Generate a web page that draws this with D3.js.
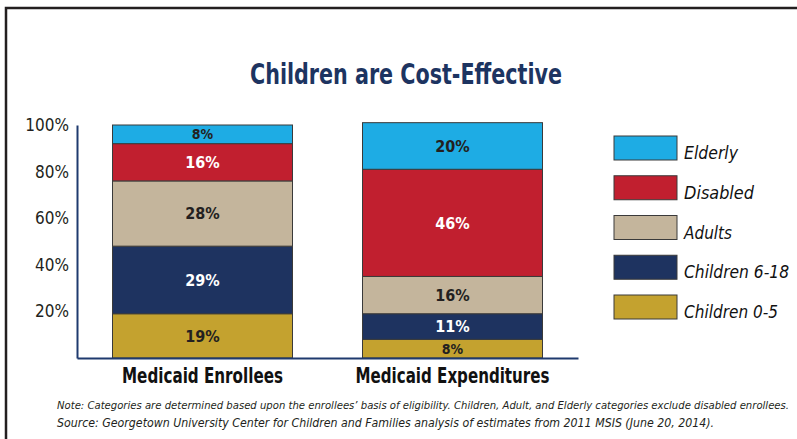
<!DOCTYPE html>
<html>
<head>
<meta charset="utf-8">
<script src="https://cdn.jsdelivr.net/npm/d3@7"></script>
<style>
  html, body { margin: 0; padding: 0; background: #fff; }
  svg { display: block; }
</style>
</head>
<body>
<svg id="chart" width="797" height="439"></svg>
<script>
// ---- data ----
const categories = ["Medicaid Enrollees", "Medicaid Expenditures"];
const seriesNames = ["Children 0-5", "Children 6-18", "Adults", "Disabled", "Elderly"];
const children05 = [19, 8];
const children618 = [29, 11];
const adults = [28, 16];
const disabled = [16, 46];
const elderly = [8, 20];
const yTicks = [20, 40, 60, 80, 100];
const colors = ["#c4a22f", "#1e3360", "#c4b59c", "#c11f2f", "#1eace4"];
const labelColors = ["#231f20", "#ffffff", "#231f20", "#ffffff", "#231f20"];
const titleText = "Children are Cost-Effective";
const noteText = "Note: Categories are determined based upon the enrollees\u2019 basis of eligibility.  Children, Adult, and Elderly categories exclude disabled enrollees.";
const sourceText = "Source: Georgetown University Center for Children and Families analysis of estimates from 2011 MSIS (June 20, 2014).";

const seriesValues = [children05, children618, adults, disabled, elderly];
const table = categories.map((c, i) => {
  const row = { category: c };
  seriesNames.forEach((s, j) => row[s] = seriesValues[j][i]);
  return row;
});

const svg = d3.select("#chart");
const font = '"Liberation Sans Narrow", "DejaVu Sans Condensed", "Open Sans", sans-serif';

// fit a text's font size so its natural width matches target width
function fitText(sel, target, maxSize) {
  const node = sel.node();
  const w = node.getComputedTextLength();
  const cur = parseFloat(sel.attr("font-size"));
  const size = Math.min(maxSize, cur * target / w);
  sel.attr("font-size", size);
  sel.attr("textLength", target).attr("lengthAdjust", "spacingAndGlyphs");
}

// frame
svg.append("rect")
  .attr("x", 6).attr("y", 8).attr("width", 800).attr("height", 440)
  .attr("fill", "none").attr("stroke", "#231f20").attr("stroke-width", 2.5);

// title
svg.append("text")
  .attr("x", 406).attr("y", 84)
  .attr("text-anchor", "middle")
  .attr("font-family", font).attr("font-weight", "bold").attr("font-size", 28)
  .attr("fill", "#1d3461")
  .attr("textLength", 312).attr("lengthAdjust", "spacingAndGlyphs")
  .text(titleText);

// scales
const x = d3.scaleBand().domain(categories).range([77, 578]).paddingInner(0.28).paddingOuter(0.142);
const y = d3.scaleLinear().domain([0, 100]).range([358, 125]);

const stack = d3.stack().keys(seriesNames);
const stacked = stack(table);

// bars
const g = svg.append("g");
stacked.forEach((layer, li) => {
  g.selectAll(null).data(layer).enter().append("rect")
    .attr("x", d => x(d.data.category))
    .attr("width", x.bandwidth())
    .attr("y", d => y(d[1]))
    .attr("height", d => y(d[0]) - y(d[1]))
    .attr("fill", colors[li])
    .attr("stroke", "#3a3a3a").attr("stroke-width", 1);
});
// bar labels
stacked.forEach((layer, li) => {
  g.selectAll(null).data(layer).enter().append("text")
    .attr("x", d => x(d.data.category) + x.bandwidth() / 2)
    .attr("y", d => (y(d[0]) + y(d[1])) / 2)
    .attr("dy", "0.36em")
    .attr("text-anchor", "middle")
    .attr("font-family", font).attr("font-weight", "bold")
    .attr("font-size", d => (y(d[0]) - y(d[1])) < 20 ? 14 : 16)
    .attr("fill", labelColors[li])
    .text(d => (d[1] - d[0]) + "%");
});

// y axis
const yAxis = svg.append("g").attr("transform", "translate(77,0)")
  .call(d3.axisLeft(y).tickValues(yTicks).tickSize(0).tickPadding(8).tickFormat(d => d + "%"));
yAxis.select(".domain").attr("stroke", "#1f3a6e").attr("stroke-width", 2);
yAxis.selectAll("text").attr("font-family", font).attr("font-size", 17).attr("fill", "#231f20");

// x axis
const xAxis = svg.append("g").attr("transform", "translate(0,358)")
  .call(d3.axisBottom(x).tickSize(0).tickPadding(10));
xAxis.select(".domain").attr("stroke", "#1f3a6e").attr("stroke-width", 2);
xAxis.selectAll("text").attr("font-family", font).attr("font-weight", "bold")
  .attr("font-size", 21).attr("fill", "#111")
  .attr("textLength", d => d === categories[0] ? 161 : 194).attr("lengthAdjust", "spacingAndGlyphs");

// legend
const legendOrder = seriesNames.slice().reverse();
const legendWidths = { "Elderly": 54, "Disabled": 70, "Adults": 48, "Children 6-18": 105, "Children 0-5": 94 };
const lg = svg.append("g");
legendOrder.forEach((name, i) => {
  const yy = 136 + i * 39.75;
  lg.append("rect").attr("x", 614).attr("y", yy).attr("width", 63).attr("height", 24)
    .attr("fill", colors[seriesNames.indexOf(name)]).attr("stroke", "#3a3a3a").attr("stroke-width", 1);
  lg.append("text").attr("x", 684).attr("y", yy + 23)
    .attr("font-family", font).attr("font-style", "italic").attr("font-size", 18.5)
    .attr("fill", "#111")
    .attr("textLength", legendWidths[name]).attr("lengthAdjust", "spacingAndGlyphs")
    .text(name);
});

// notes
const note = svg.append("text").attr("x", 57).attr("y", 409)
  .attr("font-family", font).attr("font-style", "italic").attr("font-size", 12).attr("fill", "#231f20")
  .text(noteText);
fitText(note, 732, 13);
const src = svg.append("text").attr("x", 57).attr("y", 427)
  .attr("font-family", font).attr("font-style", "italic").attr("font-size", 12).attr("fill", "#231f20")
  .text(sourceText);
fitText(src, 657, 13);
</script>
</body>
</html>
